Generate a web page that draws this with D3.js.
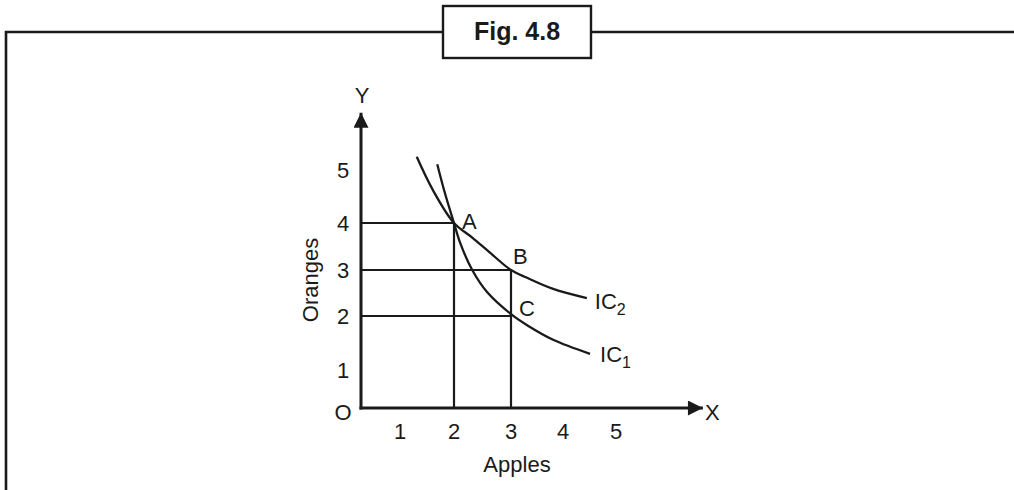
<!DOCTYPE html>
<html><head><meta charset="utf-8">
<script src="https://cdn.jsdelivr.net/npm/d3@7"></script>
<style>body{margin:0;background:#fff}svg{display:block}text{font-family:"Liberation Sans",Arial,sans-serif;fill:#1a1a1a}</style>
</head><body><svg id="c" width="1014" height="490"></svg>
<script>
const title = "Fig. 4.8";
const xTicks = [1, 2, 3, 4, 5];
const yTicks = [1, 2, 3, 4, 5];
const xLabel = "Apples", yLabel = "Oranges";
const ic1 = [[1.69,5.11],[1.83,4.57],[2,4],[2.11,3.57],[2.32,3.0],[2.58,2.52],[3,2.04],[3.31,1.83],[3.81,1.56],[4.51,1.30]];
const ic2 = [[1.31,5.25],[1.61,4.62],[2,4],[2.33,3.68],[2.63,3.37],[3,3],[3.31,2.83],[3.81,2.59],[4.45,2.39]];
const points = [{n:"A",x:2,y:4},{n:"B",x:3,y:3},{n:"C",x:3,y:2}];
const guides = [[[0,4],[2,4]],[[0,3],[3,3]],[[0,2],[3,2]],[[2,0],[2,4]],[[3,0],[3,3]]];

const svg = d3.select("#c");
const ink = "#1a1a1a";
const x = d3.scaleLinear().domain([0,1,2,3,4,5]).range([361,400,454,511,563,616]);
const y = d3.scaleLinear().domain([0,1,2,3,4,5]).range([408,370,316,270,223,170]);

// frame
svg.append("path").attr("d","M6,490V32H443M591,32H1014").attr("fill","none").attr("stroke",ink).attr("stroke-width",2.6);
svg.append("rect").attr("x",443).attr("y",6).attr("width",148).attr("height",52).attr("fill","#fff").attr("stroke",ink).attr("stroke-width",2.4);
svg.append("text").attr("x",517).attr("y",40).attr("text-anchor","middle").attr("font-size",25).attr("font-weight","bold").text(title);

// arrow marker
const defs = svg.append("defs");
defs.append("marker").attr("id","arr").attr("viewBox","0 0 10 10").attr("refX",10).attr("refY",5)
  .attr("markerWidth",16).attr("markerHeight",15).attr("markerUnits","userSpaceOnUse").attr("orient","auto")
  .append("path").attr("d","M0,0L10,5L0,10Z").attr("fill",ink);

// guides
const line = d3.line().x(d=>x(d[0])).y(d=>y(d[1]));
svg.selectAll(".g").data(guides).join("path").attr("d",line).attr("fill","none").attr("stroke",ink).attr("stroke-width",2.2);

// axes
svg.append("line").attr("x1",x(0)).attr("y1",y(0)+1.5).attr("x2",x(0)).attr("y2",y(6.08)).attr("stroke",ink).attr("stroke-width",3).attr("marker-end","url(#arr)");
svg.append("line").attr("x1",x(0)-1.5).attr("y1",y(0)).attr("x2",x(6.64)).attr("y2",y(0)).attr("stroke",ink).attr("stroke-width",3).attr("marker-end","url(#arr)");

// curves
const curve = d3.line().x(d=>x(d[0])).y(d=>y(d[1])).curve(d3.curveCatmullRom.alpha(0.5));
[ic1, ic2].forEach(c => svg.append("path").attr("d",curve(c)).attr("fill","none").attr("stroke",ink).attr("stroke-width",2.3));

// tick labels
const fs = 22;
svg.selectAll(".xt").data(xTicks).join("text").attr("x",d=>x(d)).attr("y",y(0)+31).attr("text-anchor","middle").attr("font-size",fs).text(d=>d);
svg.selectAll(".yt").data(yTicks).join("text").attr("x",343).attr("y",d=>y(d)+8).attr("text-anchor","middle").attr("font-size",fs).text(d=>d);
svg.append("text").attr("x",343).attr("y",y(0)+12).attr("text-anchor","middle").attr("font-size",fs).text("O");
svg.append("text").attr("x",x(0)+1).attr("y",103).attr("text-anchor","middle").attr("font-size",fs).text("Y");
svg.append("text").attr("x",705).attr("y",y(0)+12).attr("font-size",fs).text("X");

// axis titles
svg.append("text").attr("x",517).attr("y",472).attr("text-anchor","middle").attr("font-size",fs).text(xLabel);
svg.append("text").attr("transform","translate(318,280) rotate(-90)").attr("text-anchor","middle").attr("font-size",fs).text(yLabel);

// point labels
const off = {A:[8,6],B:[2,-6],C:[8,0]};
svg.selectAll(".pl").data(points).join("text").attr("x",d=>x(d.x)+off[d.n][0]).attr("y",d=>y(d.y)+off[d.n][1]).attr("font-size",fs).text(d=>d.n);

// curve labels
const lab = [{c:ic2,s:"2",dx:8,dy:11},{c:ic1,s:"1",dx:10,dy:8}];
lab.forEach(l => {
  const e = l.c[l.c.length-1];
  const t = svg.append("text").attr("x",x(e[0])+l.dx).attr("y",y(e[1])+l.dy).attr("font-size",fs).text("IC");
  t.append("tspan").attr("font-size",16).attr("dy",6).text(l.s);
});
</script></body></html>
